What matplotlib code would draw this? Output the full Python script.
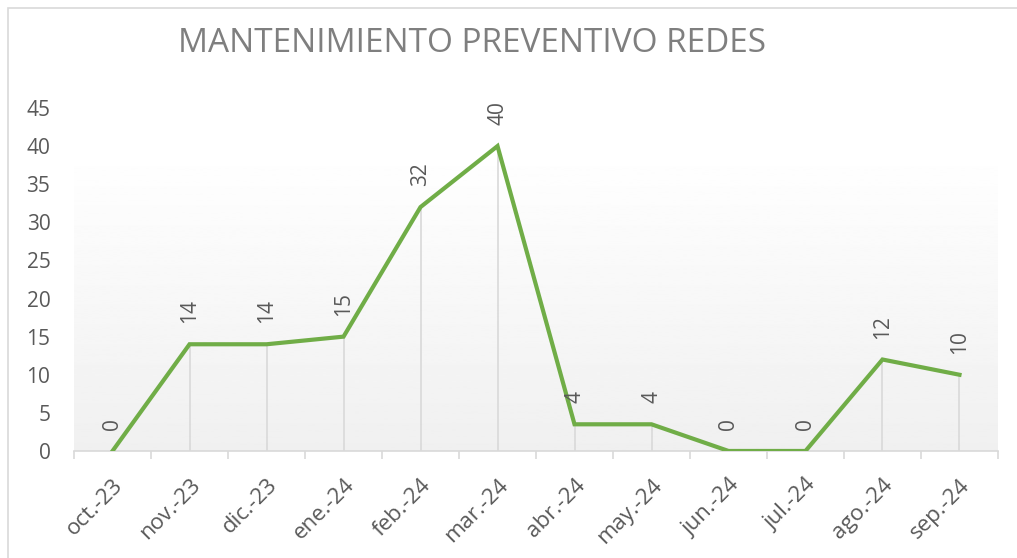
import numpy as np
import matplotlib.pyplot as plt
from matplotlib.patches import Rectangle

# data
months = ["oct.-23", "nov.-23", "dic.-23", "ene.-24", "feb.-24", "mar.-24",
          "abr.-24", "may.-24", "jun.-24", "jul.-24", "ago.-24", "sep.-24"]
values = [0, 14, 14, 15, 32, 40, 3.5, 3.5, 0, 0, 12, 10]
y_ticks = [0, 5, 10, 15, 20, 25, 30, 35, 40, 45]

plt.rcParams['font.family'] = ['Open Sans', 'DejaVu Sans']
green = "#70AD47"
text_gray = "#595959"

fig = plt.figure(figsize=(10.17, 5.58), dpi=100)
ax = fig.add_axes([0.0728, 0.1918, 0.9085, 0.6147])

x = np.arange(len(months))

# light gradient background (white at top, light gray at bottom)
grad = np.linspace(1.0, 0.94, 256).reshape(-1, 1)
ax.imshow(grad, cmap="gray", vmin=0, vmax=1, aspect="auto",
          extent=[-0.5, 11.5, 0, 40], origin="upper", zorder=0)

# drop lines
ax.vlines(x, 0, values, color="#D9D9D9", linewidth=1.2, zorder=1)

ax.plot(x, values, color=green, linewidth=3, solid_joinstyle="miter", zorder=3)

for xi, v in zip(x, values):
    ax.annotate(f"{round(v)}", (xi, v), xytext=(0, 15), textcoords="offset points",
                rotation=90, ha="center", va="bottom", fontsize=15, color=text_gray)

ax.set_xlim(-0.5, 11.5)
ax.set_ylim(0, 45)
ax.set_yticks(y_ticks)
ax.set_yticklabels([str(t) for t in y_ticks], fontsize=15, color=text_gray)
ax.tick_params(axis="y", length=0, pad=17)

ax.set_xticks(x)
ax.set_xticklabels(months, rotation=45, ha="right", rotation_mode="anchor",
                   fontsize=16, color=text_gray)
ax.tick_params(axis="x", length=0, pad=17)
ax.set_xticks(np.arange(-0.5, 12, 1), minor=True)
ax.tick_params(axis="x", which="minor", length=6, color="#D9D9D9", width=1.2)

for s in ["top", "right", "left"]:
    ax.spines[s].set_visible(False)
ax.spines["bottom"].set_color("#D9D9D9")
ax.spines["bottom"].set_linewidth(1.2)

fig.text(0.464, 0.922, "MANTENIMIENTO PREVENTIVO REDES", ha="center", va="center",
         fontsize=24, color="#7F7F7F")

# chart border
fig.patches.append(Rectangle((8 / 1017, -0.01), 1.02, 1 - 8 / 558 + 0.01,
                             transform=fig.transFigure, fill=False,
                             edgecolor="#D9D9D9", linewidth=1.2))

fig.savefig("out.png", dpi=100)
